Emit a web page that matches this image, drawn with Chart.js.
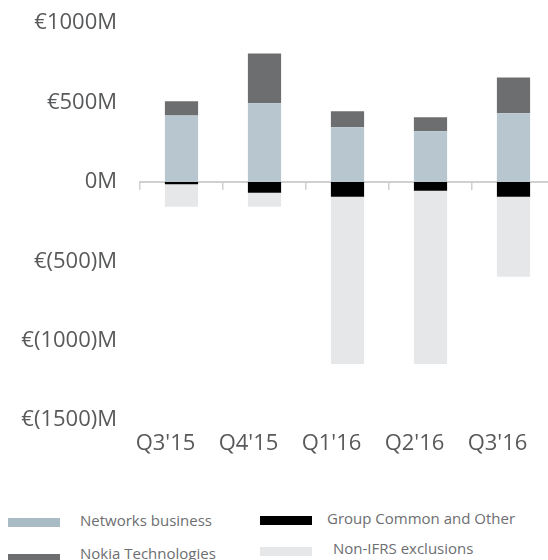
<!DOCTYPE html>
<html>
<head>
<meta charset="utf-8">
<script src="https://cdn.jsdelivr.net/npm/chart.js@4/dist/chart.umd.min.js"></script>
<style>
  html, body { margin: 0; padding: 0; background: #fff; overflow: hidden; }
  #wrap { position: relative; width: 548px; height: 560px; overflow: hidden; font-family: "Open Sans", sans-serif; }
  #box { position: absolute; left: 0; top: -13px; width: 555px; height: 483px; }
  .sw { position: absolute; height: 9px; width: 52px; }
  .lt { position: absolute; font-size: 15px; color: #6d6e71; white-space: nowrap; line-height: normal; }
</style>
</head>
<body>
<div id="wrap">
  <div id="box"><canvas id="chart"></canvas></div>
</div>
<script>
// values in € millions
const quarters = ["Q3'15", "Q4'15", "Q1'16", "Q2'16", "Q3'16"];
const networks = [419, 496, 345, 320, 433];
const groupCommon = [-14, -68, -93, -55, -93];
const nokiaTech = [90, 313, 101, 88, 225];
const nonIfrs = [-142, -88, -1054, -1092, -504];

const seriesNames = ['Networks business', 'Group Common and Other', 'Nokia Technologies', 'Non-IFRS exclusions'];
const seriesColors = ['#b8c7cf', '#000000', '#6d6e70', '#e6e7e8'];
const legendColors = ['#a9bbc5', '#000000', '#6d6e70', '#e6e7e8'];

const textColor = '#58595b';

function euroTick(v) {
    if (v === 0) return '0M';
    if (v > 0) return '€' + v + 'M';
    return '€(' + (-v) + ')M';
}

const seriesData = [networks, groupCommon, nokiaTech, nonIfrs];

const chart = new Chart(document.getElementById('chart'), {
    type: 'bar',
    data: {
        labels: quarters,
        datasets: seriesData.map((d, i) => ({
            label: seriesNames[i],
            data: d,
            backgroundColor: seriesColors[i],
            borderWidth: 0,
            barPercentage: 0.4,
            categoryPercentage: 1,
            xAxisID: 'x',
            yAxisID: 'y',
        })),
    },
    options: {
        responsive: true,
        maintainAspectRatio: false,
        animation: false,
        layout: { padding: { top: 10, left: 0, right: 0, bottom: 0 } },
        plugins: {
            legend: { display: false },
            tooltip: { enabled: false },
        },
        scales: {
            x: {
                stacked: true,
                offset: true,
                grid: { display: false, drawTicks: false },
                border: { display: false },
                ticks: {
                    color: textColor,
                    font: { family: 'Open Sans', size: 22 },
                    padding: 11,
                    labelOffset: -16,
                    maxRotation: 0,
                },
                afterFit(s) { s.height = 50; },
            },
            x0: {
                type: 'category',
                position: { y: 0 },
                offset: true,
                grid: { offset: true, drawOnChartArea: false, tickLength: 7, color: '#d0d0d0', lineWidth: 1.5 },
                border: { color: '#d0d0d0', width: 2 },
                ticks: { display: false },
            },
            y: {
                stacked: true,
                min: -1500,
                max: 1000,
                grid: { display: false, drawTicks: false },
                border: { display: false },
                ticks: {
                    stepSize: 500,
                    color: textColor,
                    font: { family: 'Open Sans', size: 22 },
                    padding: 23,
                    callback: euroTick,
                },
                afterFit(s) { s.width = 140; },
            },
        },
    },
});

// legend in two columns under the chart
const legendSpots = [
    { sx: 8, sy: 518, tx: 80, ty: 510 },
    { sx: 260, sy: 516, tx: 327, ty: 508 },
    { sx: 8, sy: 554, tx: 80, ty: 543 },
    { sx: 260, sy: 547, tx: 333, ty: 538 },
];
const wrap = document.getElementById('wrap');
chart.data.datasets.forEach((ds, i) => {
    const p = legendSpots[i];
    const sw = document.createElement('div');
    sw.className = 'sw';
    sw.style.left = p.sx + 'px';
    sw.style.top = p.sy + 'px';
    sw.style.background = legendColors[i];
    wrap.appendChild(sw);
    const t = document.createElement('div');
    t.className = 'lt';
    t.style.left = p.tx + 'px';
    t.style.top = p.ty + 'px';
    t.textContent = ds.label;
    wrap.appendChild(t);
});
</script>
</body>
</html>
